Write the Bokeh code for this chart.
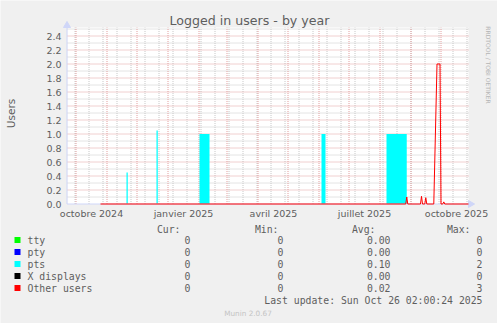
import pandas as pd
from math import pi
from bokeh.plotting import figure
from bokeh.models import Range1d, ColumnDataSource
from bokeh.embed import file_html
from bokeh.resources import INLINE
from bokeh.core.properties import value

# ---------------- data ----------------
title_text = "Logged in users - by year"
y_label = "Users"
x_start = "2024-09-22 12:00"
x_end = "2025-10-28 12:00"

tick_dates = ["2024-10-16 12:00", "2025-01-16 12:00", "2025-04-16 12:00",
              "2025-07-16 12:00", "2025-10-16 12:00"]
tick_labels = ["octobre 2024", "janvier 2025", "avril 2025", "juillet 2025", "octobre 2025"]
month_starts = ["2024-10-01", "2024-11-01", "2024-12-01", "2025-01-01", "2025-02-01",
                "2025-03-01", "2025-04-01", "2025-05-01", "2025-06-01", "2025-07-01",
                "2025-08-01", "2025-09-01", "2025-10-01"]
y_major = [0.0, 0.2, 0.4, 0.6, 0.8, 1.0, 1.2, 1.4, 1.6, 1.8, 2.0, 2.2, 2.4]
y_tick_labels = ["0.0", "0.2", "0.4", "0.6", "0.8", "1.0", "1.2", "1.4", "1.6", "1.8",
                 "2.0", "2.2", "2.4"]
y_minor = [0.1, 0.3, 0.5, 0.7, 0.9, 1.1, 1.3, 1.5, 1.7, 1.9, 2.1, 2.3, 2.5]

# pts (cyan area)
pts_start = ["2024-11-20 12:00", "2024-12-20 12:00", "2025-02-01 12:00", "2025-06-03 12:00", "2025-08-07 12:00"]
pts_end = ["2024-11-21 18:00", "2024-12-21 18:00", "2025-02-11 12:00", "2025-06-07 12:00", "2025-08-27 18:00"]
pts_value = [0.45, 1.05, 1.0, 1.0, 1.0]

# Other users (red line)
other_dates = ["2024-10-25 12:00", "2025-08-26 18:00", "2025-08-27 18:00", "2025-08-28 18:00",
               "2025-09-10 12:00", "2025-09-11 12:00", "2025-09-12 12:00",
               "2025-09-14 19:00", "2025-09-15 19:00", "2025-09-16 19:00",
               "2025-09-23 19:00", "2025-09-27 00:00", "2025-09-30 00:00", "2025-10-01 00:00",
               "2025-10-02 19:00", "2025-10-03 19:00", "2025-10-04 19:00", "2025-10-28 12:00"]
other_values = [0, 0, 0.1, 0, 0, 0.11, 0, 0, 0.09, 0, 0, 2.0, 2.0, 0, 0, 0.03, 0, 0]

legend_names = ["tty", "pty", "pts", "X displays", "Other users"]
legend_colors = ["#00FF00", "#0000FF", "#00FFFF", "#000000", "#FF0000"]
cur_vals = ["0", "0", "0", "0", "0"]
min_vals = ["0", "0", "0", "0", "0"]
avg_vals = ["0.00", "0.00", "0.10", "0.00", "0.02"]
max_vals = ["0", "0", "2", "0", "3"]
headers = ["Cur:", "Min:", "Avg:", "Max:"]
last_update = "Last update: Sun Oct 26 02:00:24 2025"
munin_ver = "Munin 2.0.67"
watermark = "RRDTOOL / TOBI OETIKER"

# ---------------- styles / layout ----------------
W, H = 497, 323
BG = "#F0F0F0"
FONT_C = "#5E5E5E"
AXIS_C = "#CFD6F8"
MGRID = "#E2A0A0"
GRID = "#C8C8C8"
PLOT_LEFT, PLOT_BOTTOM = 67, 203.5      # canvas px of chart origin
PX_PER_DAY, PX_PER_UNIT = 1.0, 70.0
V_TOP = 2.52

x_left = pd.Timestamp(x_start) - pd.Timedelta(days=PLOT_LEFT / PX_PER_DAY)
x_right = x_left + pd.Timedelta(days=W / PX_PER_DAY)
v_bottom = -(H - PLOT_BOTTOM) / PX_PER_UNIT
v_top = PLOT_BOTTOM / PX_PER_UNIT

p = figure(width=W, height=H, x_range=Range1d(0, W), y_range=Range1d(H, 0),
           min_border=0, title=None, x_axis_location=None, y_axis_location=None,
           toolbar_location=None, output_backend="svg")
p.grid.visible = False
p.outline_line_color = None
p.background_fill_color = BG
p.border_fill_color = BG
p.extra_x_ranges = {"t": Range1d(x_left, x_right)}
p.extra_y_ranges = {"v": Range1d(v_bottom, v_top)}
R = dict(x_range_name="t", y_range_name="v")

ts = lambda lst: [pd.Timestamp(d) for d in lst]
xs, xe = pd.Timestamp(x_start), pd.Timestamp(x_end)

# chart canvas
p.quad(left=[xs], right=[xe], bottom=[0], top=[V_TOP], fill_color="white", line_color=None, **R)

# grid: minor (gray) then major (red)
minor_days = [d for d in pd.date_range("2024-09-30", x_end, freq="14D")]
p.segment(x0=minor_days, y0=[0] * len(minor_days), x1=minor_days, y1=[V_TOP] * len(minor_days),
          line_color=GRID, line_dash="1 1", line_width=1, **R)
p.segment(x0=[xs] * len(y_minor), y0=y_minor, x1=[xe] * len(y_minor), y1=y_minor,
          line_color=GRID, line_dash="1 1", line_width=1, **R)
ms = ts(month_starts)
p.segment(x0=ms, y0=[0] * len(ms), x1=ms, y1=[V_TOP] * len(ms),
          line_color=MGRID, line_dash="1 1", line_width=1, **R)
p.segment(x0=[xs] * len(y_major[1:]), y0=y_major[1:], x1=[xe] * len(y_major[1:]), y1=y_major[1:],
          line_color=MGRID, line_dash="1 1", line_width=1, **R)

# pts area
src_pts = ColumnDataSource(dict(left=ts(pts_start), right=ts(pts_end),
                                top=pts_value, bottom=[0] * len(pts_value)))
p.quad(left="left", right="right", top="top", bottom="bottom", source=src_pts,
       fill_color="#00FFFF", fill_alpha=1.0, line_color=None, **R)

# axes lines + arrows
y_axis_x = xs - pd.Timedelta(hours=12)
p.segment(x0=[y_axis_x], y0=[0], x1=[y_axis_x], y1=[V_TOP + 0.02], line_color=AXIS_C, line_width=1, **R)
p.segment(x0=[y_axis_x], y0=[0], x1=[xe], y1=[0], line_color=AXIS_C, line_width=1, **R)
p.scatter(x=[66.5], y=[25], marker="triangle", size=7, fill_color=AXIS_C, line_color=AXIS_C)
p.scatter(x=[470], y=[203.5], marker="triangle", size=7, angle=-pi / 2,
          fill_color=AXIS_C, line_color=AXIS_C)

# other users line
src_other = ColumnDataSource(dict(x=ts(other_dates), y=other_values))
p.line("x", "y", source=src_other, line_color="#FF0000", line_width=1, **R)

# tick labels
sans = value("DejaVu Sans")
p.text(x=ts(tick_dates), y=[0] * len(tick_dates), text=tick_labels, y_offset=9,
       text_align="center", text_baseline="middle", text_font=sans, text_font_size="9.5px",
       text_color=FONT_C, **R)
p.text(x=[xs] * len(y_major), y=y_major, text=y_tick_labels, x_offset=-6,
       text_align="right", text_baseline="middle", text_font=sans, text_font_size="9.5px",
       text_color=FONT_C, **R)

# titles
p.text(x=[249], y=[19.5], text=[title_text], text_align="center", text_baseline="middle",
       text_font=sans, text_font_size="12.6px", text_color=FONT_C)
p.text(x=[10.5], y=[113], text=[y_label], angle=pi / 2, text_align="center", text_baseline="middle",
       text_font=sans, text_font_size="10.5px", text_color=FONT_C)
p.text(x=[487.5], y=[64.5], text=[watermark], angle=-pi / 2, text_align="center",
       text_baseline="middle", text_font=sans, text_font_size="6px", text_color="#B4B4B4")

# legend block
row_y = [239.5 + 12 * i for i in range(len(legend_names))]
mono = value("DejaVu Sans Mono")
fs = "9.8px"
p.rect(x=[17] * len(row_y), y=row_y, width=6, height=6, fill_color=legend_colors, line_color=None)
p.text(x=[27] * len(row_y), y=row_y, text=legend_names, text_font=mono, text_font_size=fs,
       text_baseline="middle", text_align="left", text_color=FONT_C)
for xr, vals in ((190, cur_vals), (283, min_vals), (390, avg_vals), (482, max_vals)):
    p.text(x=[xr] * len(row_y), y=row_y, text=vals, text_font=mono, text_font_size=fs,
           text_baseline="middle", text_align="right", text_color=FONT_C)
p.text(x=[180, 278, 375, 470], y=[228.5] * 4, text=headers, text_font=mono, text_font_size=fs,
       text_baseline="middle", text_align="right", text_color=FONT_C)
p.text(x=[482], y=[299.5], text=[last_update], text_font=mono, text_font_size=fs,
       text_baseline="middle", text_align="right", text_color=FONT_C)
p.text(x=[247.5], y=[313], text=[munin_ver], text_font=sans, text_font_size="7.3px",
       text_baseline="middle", text_align="center", text_color="#C4C4C4")

open("out.html", "w").write(file_html(p, INLINE))
